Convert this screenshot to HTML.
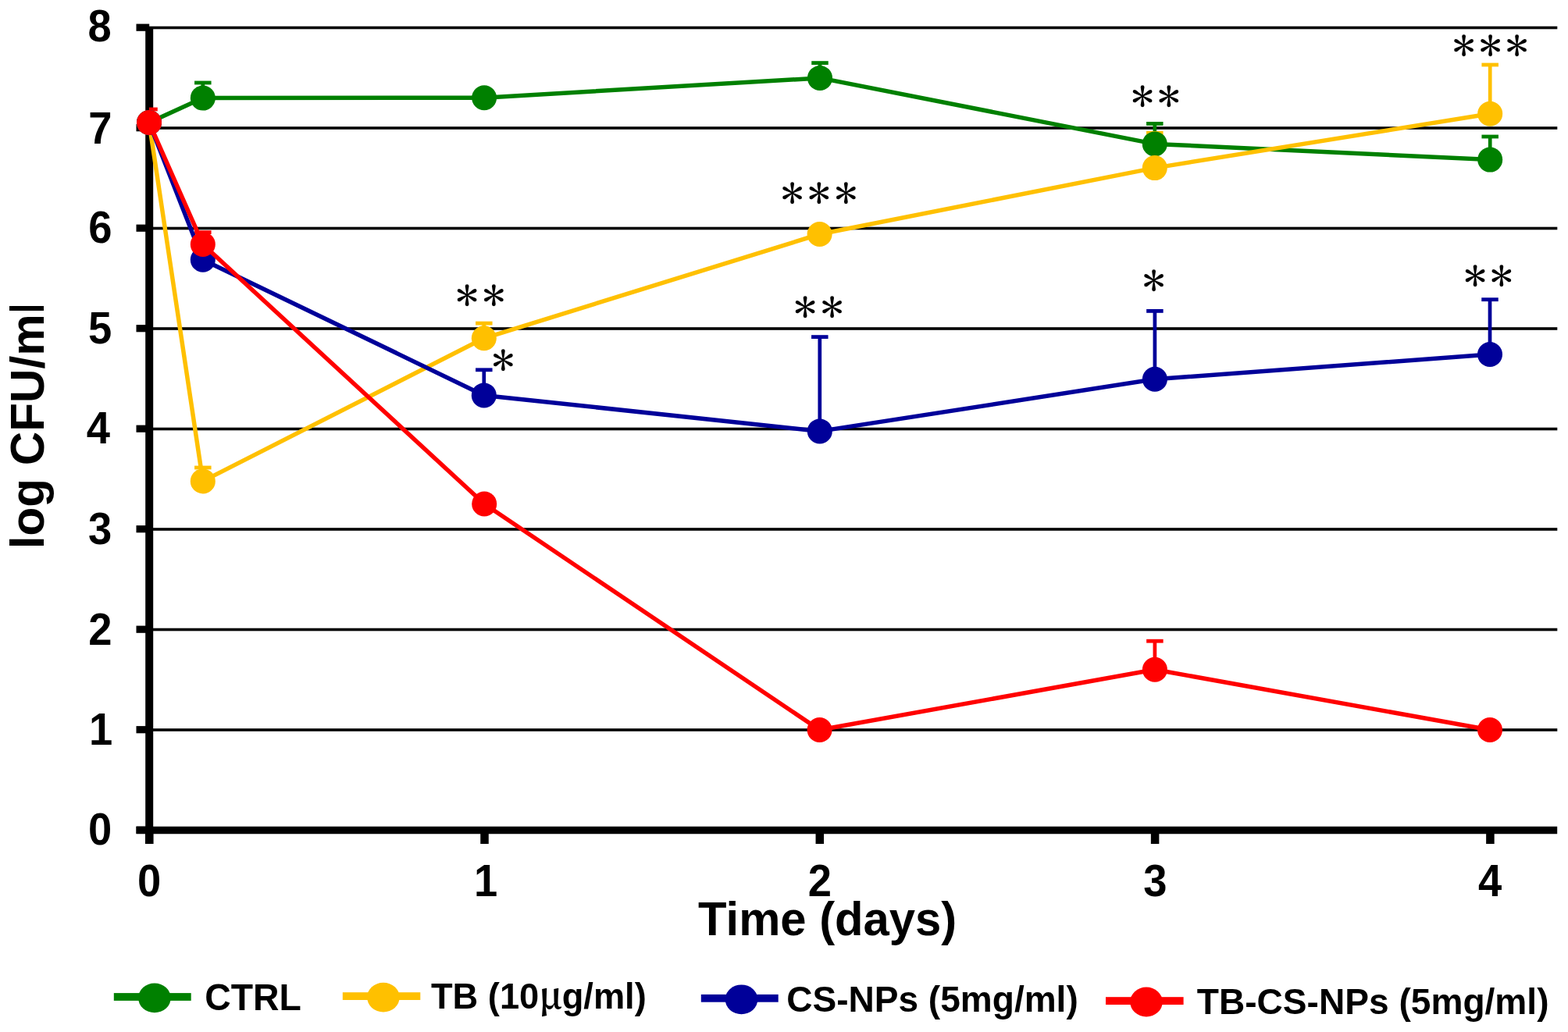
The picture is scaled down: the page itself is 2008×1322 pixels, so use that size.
<!DOCTYPE html>
<html><head><meta charset="utf-8"><title>log CFU/ml vs Time</title>
<style>html,body{margin:0;padding:0;background:#fff;} svg{display:block;}</style></head>
<body><svg width="2008" height="1322" viewBox="0 0 2008 1322">
<rect x="0" y="0" width="2008" height="1322" fill="#fff"/>
<rect x="191" y="933.20" width="1803.30" height="3.6" fill="#000"/>
<rect x="191" y="804.70" width="1803.30" height="3.6" fill="#000"/>
<rect x="191" y="676.20" width="1803.30" height="3.6" fill="#000"/>
<rect x="191" y="547.70" width="1803.30" height="3.6" fill="#000"/>
<rect x="191" y="419.20" width="1803.30" height="3.6" fill="#000"/>
<rect x="191" y="290.70" width="1803.30" height="3.6" fill="#000"/>
<rect x="191" y="162.20" width="1803.30" height="3.6" fill="#000"/>
<rect x="191" y="33.70" width="1803.30" height="3.6" fill="#000"/>
<rect x="186.20" y="35.00" width="10.0" height="1046.00" fill="#000"/>
<rect x="174.5" y="1058.60" width="16.70" height="9.2" fill="#000"/>
<rect x="174.5" y="930.10" width="16.70" height="9.2" fill="#000"/>
<rect x="174.5" y="801.60" width="16.70" height="9.2" fill="#000"/>
<rect x="174.5" y="673.10" width="16.70" height="9.2" fill="#000"/>
<rect x="174.5" y="544.60" width="16.70" height="9.2" fill="#000"/>
<rect x="174.5" y="416.10" width="16.70" height="9.2" fill="#000"/>
<rect x="174.5" y="287.60" width="16.70" height="9.2" fill="#000"/>
<rect x="174.5" y="159.10" width="16.70" height="9.2" fill="#000"/>
<rect x="174.5" y="30.60" width="16.70" height="9.2" fill="#000"/>
<rect x="174.5" y="1058.75" width="1819.70" height="9.5" fill="#000"/>
<rect x="185.95" y="1063.50" width="10.5" height="17.50" fill="#000"/>
<rect x="615.25" y="1063.50" width="10.5" height="17.50" fill="#000"/>
<rect x="1044.55" y="1063.50" width="10.5" height="17.50" fill="#000"/>
<rect x="1473.85" y="1063.50" width="10.5" height="17.50" fill="#000"/>
<rect x="1903.15" y="1063.50" width="10.5" height="17.50" fill="#000"/>
<clipPath id="pc"><rect x="191" y="0" width="1820" height="1100"/></clipPath>
<g clip-path="url(#pc)">
<rect x="257.45" y="106.00" width="4.7" height="19.60" fill="#008000"/>
<rect x="249.05" y="103.60" width="21.5" height="4.8" fill="#008000"/>
<rect x="1047.65" y="80.60" width="4.7" height="19.30" fill="#008000"/>
<rect x="1039.25" y="78.20" width="21.5" height="4.8" fill="#008000"/>
<rect x="1476.45" y="158.40" width="4.7" height="26.00" fill="#008000"/>
<rect x="1468.05" y="156.00" width="21.5" height="4.8" fill="#008000"/>
<rect x="1905.85" y="175.00" width="4.7" height="29.60" fill="#008000"/>
<rect x="1897.45" y="172.60" width="21.5" height="4.8" fill="#008000"/>
<rect x="257.45" y="599.00" width="4.7" height="17.40" fill="#FFC000"/>
<rect x="249.05" y="596.60" width="21.5" height="4.8" fill="#FFC000"/>
<rect x="617.45" y="414.10" width="4.7" height="19.20" fill="#FFC000"/>
<rect x="609.05" y="411.70" width="21.5" height="4.8" fill="#FFC000"/>
<rect x="1476.45" y="170.30" width="4.7" height="44.80" fill="#FFC000"/>
<rect x="1468.05" y="167.90" width="21.5" height="4.8" fill="#FFC000"/>
<rect x="1905.85" y="83.00" width="4.7" height="62.80" fill="#FFC000"/>
<rect x="1897.45" y="80.60" width="21.5" height="4.8" fill="#FFC000"/>
<rect x="617.45" y="473.80" width="4.7" height="32.60" fill="#000099"/>
<rect x="609.05" y="471.40" width="21.5" height="4.8" fill="#000099"/>
<rect x="1047.45" y="431.60" width="4.7" height="120.80" fill="#000099"/>
<rect x="1039.05" y="429.20" width="21.5" height="4.8" fill="#000099"/>
<rect x="1476.55" y="398.40" width="4.7" height="87.40" fill="#000099"/>
<rect x="1468.15" y="396.00" width="21.5" height="4.8" fill="#000099"/>
<rect x="1905.65" y="383.70" width="4.7" height="70.30" fill="#000099"/>
<rect x="1897.25" y="381.30" width="21.5" height="4.8" fill="#000099"/>
<rect x="188.65" y="140.00" width="4.7" height="17.00" fill="#FF0000"/>
<rect x="180.25" y="137.60" width="21.5" height="4.8" fill="#FF0000"/>
<rect x="257.45" y="297.60" width="4.7" height="15.40" fill="#FF0000"/>
<rect x="249.05" y="295.20" width="21.5" height="4.8" fill="#FF0000"/>
<rect x="1476.55" y="821.20" width="4.7" height="36.60" fill="#FF0000"/>
<rect x="1468.15" y="818.80" width="21.5" height="4.8" fill="#FF0000"/>
</g>
<polyline points="191.00,157.00 259.80,125.60 620.10,125.20 1050.00,99.90 1478.80,184.40 1908.20,204.60" fill="none" stroke="#008000" stroke-width="5.5" stroke-linejoin="round"/>
<circle cx="191.00" cy="157.00" r="16" fill="#008000"/>
<circle cx="259.80" cy="125.60" r="16" fill="#008000"/>
<circle cx="620.10" cy="125.20" r="16" fill="#008000"/>
<circle cx="1050.00" cy="99.90" r="16" fill="#008000"/>
<circle cx="1478.80" cy="184.40" r="16" fill="#008000"/>
<circle cx="1908.20" cy="204.60" r="16" fill="#008000"/>
<polyline points="191.00,157.00 259.80,616.40 619.80,433.30 1049.60,300.00 1478.80,215.10 1908.20,145.80" fill="none" stroke="#FFC000" stroke-width="5.5" stroke-linejoin="round"/>
<circle cx="191.00" cy="157.00" r="16" fill="#FFC000"/>
<circle cx="259.80" cy="616.40" r="16" fill="#FFC000"/>
<circle cx="619.80" cy="433.30" r="16" fill="#FFC000"/>
<circle cx="1049.60" cy="300.00" r="16" fill="#FFC000"/>
<circle cx="1478.80" cy="215.10" r="16" fill="#FFC000"/>
<circle cx="1908.20" cy="145.80" r="16" fill="#FFC000"/>
<polyline points="191.00,157.00 259.80,332.70 619.80,506.40 1049.80,552.40 1478.90,485.80 1908.00,454.00" fill="none" stroke="#000099" stroke-width="5.5" stroke-linejoin="round"/>
<circle cx="191.00" cy="157.00" r="16" fill="#000099"/>
<circle cx="259.80" cy="332.70" r="16" fill="#000099"/>
<circle cx="619.80" cy="506.40" r="16" fill="#000099"/>
<circle cx="1049.80" cy="552.40" r="16" fill="#000099"/>
<circle cx="1478.90" cy="485.80" r="16" fill="#000099"/>
<circle cx="1908.00" cy="454.00" r="16" fill="#000099"/>
<polyline points="191.00,157.00 259.80,313.00 620.20,645.50 1049.60,935.00 1478.90,857.80 1908.00,935.00" fill="none" stroke="#FF0000" stroke-width="5.5" stroke-linejoin="round"/>
<circle cx="191.00" cy="157.00" r="16" fill="#FF0000"/>
<circle cx="259.80" cy="313.00" r="16" fill="#FF0000"/>
<circle cx="620.20" cy="645.50" r="16" fill="#FF0000"/>
<circle cx="1049.60" cy="935.00" r="16" fill="#FF0000"/>
<circle cx="1478.90" cy="857.80" r="16" fill="#FF0000"/>
<circle cx="1908.00" cy="935.00" r="16" fill="#FF0000"/>
<text x="577.36" y="393.53" font-family="'Liberation Sans', IPAGothic, sans-serif" font-weight="normal" font-size="41.80"  xml:space="preserve">＊</text>
<text x="611.46" y="393.53" font-family="'Liberation Sans', IPAGothic, sans-serif" font-weight="normal" font-size="41.80"  xml:space="preserve">＊</text>
<text x="623.56" y="477.18" font-family="'Liberation Sans', IPAGothic, sans-serif" font-weight="normal" font-size="41.80"  xml:space="preserve">＊</text>
<text x="993.66" y="262.98" font-family="'Liberation Sans', IPAGothic, sans-serif" font-weight="normal" font-size="41.80"  xml:space="preserve">＊</text>
<text x="1028.06" y="262.98" font-family="'Liberation Sans', IPAGothic, sans-serif" font-weight="normal" font-size="41.80"  xml:space="preserve">＊</text>
<text x="1062.46" y="262.98" font-family="'Liberation Sans', IPAGothic, sans-serif" font-weight="normal" font-size="41.80"  xml:space="preserve">＊</text>
<text x="1010.26" y="409.32" font-family="'Liberation Sans', IPAGothic, sans-serif" font-weight="normal" font-size="41.80"  xml:space="preserve">＊</text>
<text x="1044.66" y="409.32" font-family="'Liberation Sans', IPAGothic, sans-serif" font-weight="normal" font-size="41.80"  xml:space="preserve">＊</text>
<text x="1442.16" y="139.08" font-family="'Liberation Sans', IPAGothic, sans-serif" font-weight="normal" font-size="41.80"  xml:space="preserve">＊</text>
<text x="1475.96" y="139.08" font-family="'Liberation Sans', IPAGothic, sans-serif" font-weight="normal" font-size="41.80"  xml:space="preserve">＊</text>
<text x="1456.66" y="374.68" font-family="'Liberation Sans', IPAGothic, sans-serif" font-weight="normal" font-size="41.80"  xml:space="preserve">＊</text>
<text x="1853.86" y="74.42" font-family="'Liberation Sans', IPAGothic, sans-serif" font-weight="normal" font-size="41.80"  xml:space="preserve">＊</text>
<text x="1887.76" y="74.42" font-family="'Liberation Sans', IPAGothic, sans-serif" font-weight="normal" font-size="41.80"  xml:space="preserve">＊</text>
<text x="1921.66" y="74.42" font-family="'Liberation Sans', IPAGothic, sans-serif" font-weight="normal" font-size="41.80"  xml:space="preserve">＊</text>
<text x="1868.36" y="368.68" font-family="'Liberation Sans', IPAGothic, sans-serif" font-weight="normal" font-size="41.80"  xml:space="preserve">＊</text>
<text x="1901.96" y="368.68" font-family="'Liberation Sans', IPAGothic, sans-serif" font-weight="normal" font-size="41.80"  xml:space="preserve">＊</text>
<text transform="translate(143.17,1082.02) scale(0.945,1)" font-family="'Liberation Sans', Arial, sans-serif" font-weight="bold" font-size="57.5" text-anchor="end">0</text>
<text transform="translate(144.13,954.00) scale(0.945,1)" font-family="'Liberation Sans', Arial, sans-serif" font-weight="bold" font-size="57.5" text-anchor="end">1</text>
<text transform="translate(143.37,825.50) scale(0.945,1)" font-family="'Liberation Sans', Arial, sans-serif" font-weight="bold" font-size="57.5" text-anchor="end">2</text>
<text transform="translate(143.17,697.12) scale(0.945,1)" font-family="'Liberation Sans', Arial, sans-serif" font-weight="bold" font-size="57.5" text-anchor="end">3</text>
<text transform="translate(141.00,567.80) scale(0.945,1)" font-family="'Liberation Sans', Arial, sans-serif" font-weight="bold" font-size="57.5" text-anchor="end">4</text>
<text transform="translate(143.13,439.82) scale(0.945,1)" font-family="'Liberation Sans', Arial, sans-serif" font-weight="bold" font-size="57.5" text-anchor="end">5</text>
<text transform="translate(143.37,310.93) scale(0.945,1)" font-family="'Liberation Sans', Arial, sans-serif" font-weight="bold" font-size="57.5" text-anchor="end">6</text>
<text transform="translate(143.37,183.57) scale(0.945,1)" font-family="'Liberation Sans', Arial, sans-serif" font-weight="bold" font-size="57.5" text-anchor="end">7</text>
<text transform="translate(142.73,53.22) scale(0.945,1)" font-family="'Liberation Sans', Arial, sans-serif" font-weight="bold" font-size="57.5" text-anchor="end">8</text>
<text transform="translate(191.20,1147.72) scale(0.945,1)" font-family="'Liberation Sans', Arial, sans-serif" font-weight="bold" font-size="57.5" text-anchor="middle">0</text>
<text transform="translate(622.01,1148.30) scale(0.945,1)" font-family="'Liberation Sans', Arial, sans-serif" font-weight="bold" font-size="57.5" text-anchor="middle">1</text>
<text transform="translate(1049.80,1148.30) scale(0.945,1)" font-family="'Liberation Sans', Arial, sans-serif" font-weight="bold" font-size="57.5" text-anchor="middle">2</text>
<text transform="translate(1479.37,1147.72) scale(0.945,1)" font-family="'Liberation Sans', Arial, sans-serif" font-weight="bold" font-size="57.5" text-anchor="middle">3</text>
<text transform="translate(1908.13,1148.30) scale(0.945,1)" font-family="'Liberation Sans', Arial, sans-serif" font-weight="bold" font-size="57.5" text-anchor="middle">4</text>
<text transform="translate(894.10,1198.30) scale(1,1.02)" font-family="'Liberation Sans', Arial, sans-serif" font-weight="bold" font-size="59.80" xml:space="preserve">Time (days)</text>
<clipPath id="yt"><rect x="0" y="392.1" width="120" height="400"/></clipPath>
<g clip-path="url(#yt)"><text transform="rotate(-90) translate(-703.21,56.0) scale(1,1.01)" font-family="'Liberation Sans', Arial, sans-serif" font-weight="bold" font-size="60.20">log CFU/ml</text></g>
<rect x="145.80" y="1272.10" width="98.90" height="9.8" fill="#008000"/>
<ellipse cx="197.90" cy="1278.40" rx="20.8" ry="18.9" fill="#008000"/>
<text transform="translate(262.25,1293.50) scale(1,1.02)" font-family="'Liberation Sans', Arial, sans-serif" font-weight="bold" font-size="46.35" xml:space="preserve">CTRL</text>
<rect x="438.80" y="1271.20" width="99.50" height="9.8" fill="#FFC000"/>
<ellipse cx="490.90" cy="1277.60" rx="20.8" ry="18.9" fill="#FFC000"/>
<text transform="translate(551.95,1292.30) scale(1,1.02)" font-family="'Liberation Sans', Arial, sans-serif" font-weight="bold" font-size="45.25" xml:space="preserve">TB (10<tspan font-family="'Noto Serif CJK SC', 'Liberation Serif', serif" font-weight="bold">μ</tspan>g/ml)</text>
<rect x="897.80" y="1273.90" width="98.90" height="9.8" fill="#000099"/>
<ellipse cx="949.50" cy="1280.30" rx="20.8" ry="18.9" fill="#000099"/>
<text transform="translate(1007.16,1295.50) scale(1,1.02)" font-family="'Liberation Sans', Arial, sans-serif" font-weight="bold" font-size="46.06" xml:space="preserve">CS-NPs (5mg/ml)</text>
<rect x="1416.00" y="1277.20" width="99.60" height="9.8" fill="#FF0000"/>
<ellipse cx="1468.00" cy="1283.50" rx="20.8" ry="18.9" fill="#FF0000"/>
<text transform="translate(1532.74,1298.80) scale(1,1.02)" font-family="'Liberation Sans', Arial, sans-serif" font-weight="bold" font-size="46.11" xml:space="preserve">TB-CS-NPs (5mg/ml)</text>
</svg></body></html>
